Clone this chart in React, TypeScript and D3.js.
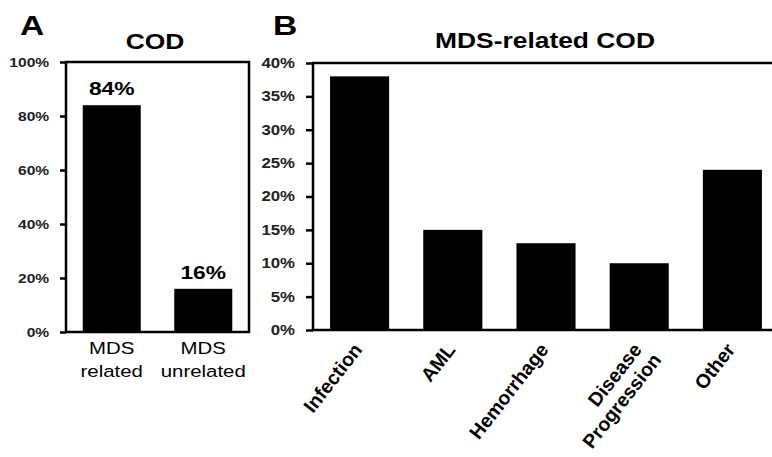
import React, { useEffect, useRef } from "react";
import * as d3 from "d3";

// panel A
const codCategories = ["MDS related", "MDS unrelated"];
const codValues = [0.84, 0.16];
const codTicks = [0, 0.2, 0.4, 0.6, 0.8, 1.0];

// panel B
const causeCategories = ["Infection", "AML", "Hemorrhage", "Disease Progression", "Other"];
const causeLines = [["Infection"], ["AML"], ["Hemorrhage"], ["Disease", "Progression"], ["Other"]];
const causeValues = [0.38, 0.15, 0.13, 0.10, 0.24];
const causeTicks = [0, 0.05, 0.1, 0.15, 0.2, 0.25, 0.3, 0.35, 0.4];

const FONT = "'Liberation Sans', Arial, Helvetica, sans-serif";
const SX = 1.2; // the figure text is stretched horizontally

const App = () => {
  const svgRef = useRef<SVGSVGElement>(null);

  useEffect(() => {
    const svg = d3.select(svgRef.current);
    svg.selectAll("*").remove();
    svg.style("font-family", FONT);

    const pct = d3.format(".0%");

    const label = (x: number, y: number, txt: string, size: number, weight = "normal", anchor = "middle") =>
      svg.append("text")
        .attr("transform", `translate(${x},${y}) scale(${SX},1)`)
        .attr("text-anchor", anchor)
        .attr("font-size", size)
        .attr("font-weight", weight)
        .attr("fill", "#000")
        .text(txt);

    // ---------- Panel A ----------
    const ax = d3.scaleBand().domain(codCategories).range([66, 249]).paddingInner(0.366).paddingOuter(0.183);
    const ay = d3.scaleLinear().domain([0, 1]).range([332, 62]);

    svg.append("g").selectAll("rect").data(codCategories).join("rect")
      .attr("x", d => ax(d)!)
      .attr("y", (d, i) => ay(codValues[i]))
      .attr("width", ax.bandwidth())
      .attr("height", (d, i) => ay(0) - ay(codValues[i]))
      .attr("fill", "#000");

    const gA = svg.append("g")
      .attr("transform", "translate(66,0)")
      .call(d3.axisLeft(ay).tickValues(codTicks).tickSize(6).tickPadding(8).tickFormat(d => pct(d as number)));
    gA.select(".domain").remove();
    gA.selectAll("line").attr("stroke", "#000").attr("stroke-width", 2.5);
    gA.selectAll("text")
      .attr("transform", `scale(${SX},1)`)
      .attr("font-size", 13).attr("font-weight", "bold").attr("font-family", FONT).attr("fill", "#222");

    svg.append("rect")
      .attr("x", ax.range()[0]).attr("y", ay(1))
      .attr("width", ax.range()[1] - ax.range()[0]).attr("height", ay(0) - ay(1))
      .attr("fill", "none").attr("stroke", "#000").attr("stroke-width", 2.5);

    codCategories.forEach((c, i) => {
      const cx = ax(c)! + ax.bandwidth() / 2;
      label(cx, ay(codValues[i]) - 10, pct(codValues[i]), 19, "bold");
      const parts = c.split(" ");
      label(cx, 354, parts[0], 17);
      label(cx, 377, parts[1], 17);
    });

    label(155, 49, "COD", 22, "bold");
    label(20, 35, "A", 28, "bold", "start");

    // ---------- Panel B ----------
    const bx = d3.scaleBand().domain(causeCategories).range([313, 779]).paddingInner(0.366).paddingOuter(0.183);
    const by = d3.scaleLinear().domain([0, 0.4]).range([330, 63]);

    svg.append("g").selectAll("rect").data(causeCategories).join("rect")
      .attr("x", d => bx(d)!)
      .attr("y", (d, i) => by(causeValues[i]))
      .attr("width", bx.bandwidth())
      .attr("height", (d, i) => by(0) - by(causeValues[i]))
      .attr("fill", "#000");

    const gB = svg.append("g")
      .attr("transform", "translate(313,0)")
      .call(d3.axisLeft(by).tickValues(causeTicks).tickSize(7).tickPadding(8).tickFormat(d => pct(d as number)));
    gB.select(".domain").remove();
    gB.selectAll("line").attr("stroke", "#000").attr("stroke-width", 2.5);
    gB.selectAll("text")
      .attr("transform", `scale(${SX},1)`)
      .attr("font-size", 14).attr("font-weight", "bold").attr("font-family", FONT).attr("fill", "#222");

    svg.append("rect")
      .attr("x", bx.range()[0]).attr("y", by(0.4))
      .attr("width", bx.range()[1] - bx.range()[0]).attr("height", by(0) - by(0.4))
      .attr("fill", "none").attr("stroke", "#000").attr("stroke-width", 2.5);

    causeCategories.forEach((c, i) => {
      const cx = bx(c)! + bx.bandwidth() / 2;
      const t = svg.append("text")
        .attr("transform", `translate(${cx - 8},${341}) rotate(-52)`)
        .attr("text-anchor", "end")
        .attr("font-size", 19.5)
        .attr("font-weight", "bold")
        .attr("fill", "#000");
      causeLines[i].forEach((ln, j) => {
        t.append("tspan")
          .attr("x", j * 4)
          .attr("y", 0)
          .attr("dy", `${0.75 + j * 1.1}em`)
          .text(ln);
      });
    });

    label(545, 48, "MDS-related COD", 22, "bold");
    label(273, 35, "B", 28, "bold", "start");
  }, []);

  return (
    <svg ref={svgRef} width={772} height={457}
      style={{ position: "absolute", left: 0, top: 0, background: "#fff" }} />
  );
};

export default App;
